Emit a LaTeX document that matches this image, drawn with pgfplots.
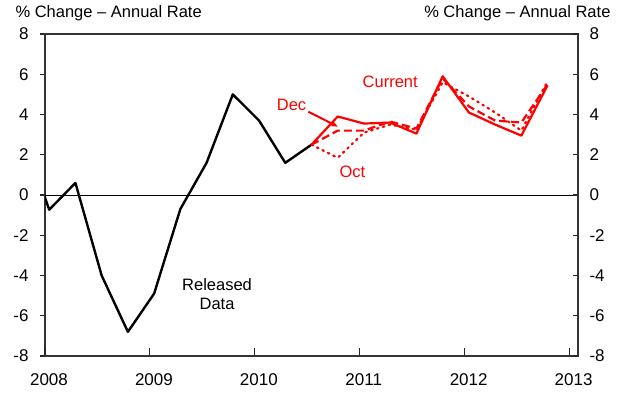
\documentclass[border=0pt]{standalone}
\usepackage{pgfplots}
\pgfplotsset{compat=1.18}
\usetikzlibrary{arrows.meta}
\usepackage{fontspec}
\setmainfont{Liberation Sans}
\definecolor{cred}{RGB}{255,0,0}
\begin{document}
\begin{tikzpicture}[font=\fontsize{16.5}{19.8}\selectfont]
\path (-45pt,-38pt) rectangle (581pt,356pt);
\pgfplotsset{every axis/.append style={scale only axis, width=533pt, height=322pt,
  xmin=2008, xmax=2013.08, ymin=-8, ymax=8, at={(0pt,0pt)}, anchor=south west,
  /pgf/number format/assume math mode=true,
  tick label style={font=\fontsize{17}{20}\selectfont},
  tick style={black!85, line width=1.1pt},
  axis line style={black!80, line width=1.1pt}}}
% main axis with data and left ticks
\begin{axis}[ytick={-8,-6,...,8}, ytick pos=left, tick align=outside, major tick length=5pt,
  xtick=\empty, yticklabel style={xshift=-8pt}]
\addplot[black, line width=1pt, forget plot] coordinates {(2008,0) (2013.08,0)};
\addplot[black, line width=2.4pt, line join=round] coordinates {
 (2007.79,3.0) (2008.04,-0.73) (2008.29,0.6) (2008.54,-4.0) (2008.79,-6.8)
 (2009.04,-4.9) (2009.29,-0.7) (2009.54,1.6) (2009.79,5.0) (2010.04,3.7)
 (2010.29,1.6) (2010.54,2.5)};
\addplot[cred, line width=2.2pt, dash pattern=on 1.6pt off 4.5pt, line cap=round] coordinates {
 (2010.54,2.5) (2010.79,1.85) (2011.04,3.1) (2011.29,3.5) (2011.54,3.25)
 (2011.79,5.6) (2012.04,4.9) (2012.29,4.1) (2012.54,3.2) (2012.79,5.65)};
\addplot[cred, line width=2.2pt, dash pattern=on 8pt off 4pt] coordinates {
 (2010.54,2.5) (2010.79,3.2) (2011.04,3.2) (2011.29,3.65) (2011.54,3.3)
 (2011.79,5.8) (2012.04,4.4) (2012.29,3.7) (2012.54,3.6) (2012.79,5.5)};
\addplot[cred, line width=2.2pt, line join=round] coordinates {
 (2010.54,2.5) (2010.79,3.9) (2011.04,3.55) (2011.29,3.6) (2011.54,3.05)
 (2011.79,5.9) (2012.04,4.1) (2012.29,3.5) (2012.54,2.95) (2012.79,5.45)};
\node[cred] at (axis cs:2010.35,4.49) {Dec};
\draw[cred, line width=2pt, -{Stealth[length=7pt,width=6pt]}] (axis cs:2010.51,4.14) -- (axis cs:2010.79,3.4);
\node[cred] at (axis cs:2011.29,5.63) {Current};
\node[cred] at (axis cs:2010.93,1.17) {Oct};
\node[align=center, font=\fontsize{16.5}{19}\selectfont] at (axis cs:2009.64,-4.94) {Released\\Data};
\end{axis}
% bottom x axis with inward ticks
\begin{axis}[hide y axis, axis x line*=bottom, tick align=inside, major tick length=8pt,
  xtick={2008,2009,2010,2011,2012,2013},
  xticklabels={2008,2009,2010,2011,2012,2013},
  xticklabel style={yshift=-14pt, xshift=4pt}]
\end{axis}
% right y axis
\begin{axis}[hide x axis, axis y line*=right, tick align=inside, major tick length=5pt,
  ytick={-8,-6,...,8}, yticklabel style={xshift=8pt}]
\end{axis}
\node[anchor=base west] at (-33pt,338pt) {\% Change -- Annual Rate};
\node[anchor=base east] at (569pt,338pt) {\% Change -- Annual Rate};
\end{tikzpicture}
\end{document}
